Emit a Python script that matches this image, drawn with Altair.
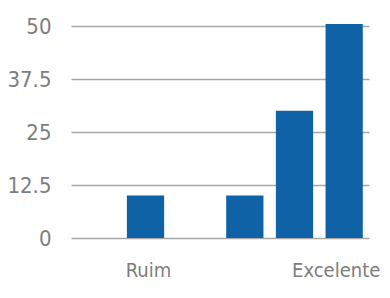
import altair as alt
import pandas as pd
import json

positions = [0, 1, 2, 3, 4, 5]
labels = ["", "Ruim", "", "", "", "Excelente"]
values = [0, 10, 0, 10, 30, 50.5]
y_ticks = [0, 12.5, 25, 37.5, 50]

df = pd.DataFrame({"pos": positions, "value": values})

FONT = "DejaVu Sans Condensed"
label_expr = json.dumps(labels) + "[datum.value]"
last = positions[-1]

chart = alt.Chart(df).mark_bar(color="#0f62a5").encode(
    x=alt.X("pos:O", title=None,
            scale=alt.Scale(paddingInner=0.25, paddingOuter=0.125),
            axis=alt.Axis(labelExpr=label_expr, labelAngle=0, ticks=False, domain=False,
                          labelFont=FONT, labelFontSize=20, labelColor="#7d7d7d",
                          labelPadding=38, labelBaseline="alphabetic", labelOverlap=False,
                          labelBound=False, labelFlush=False,
                          labelOffset={"condition": {"test": f"datum.value == {last}", "value": -8},
                                       "value": 3})),
    y=alt.Y("value:Q", title=None,
            scale=alt.Scale(domain=[0, 50], nice=False),
            axis=alt.Axis(values=y_ticks, ticks=False, domain=False,
                          labelFont=FONT, labelFontSize=22, labelColor="#7d7d7d",
                          labelPadding=20, gridColor="#a6a6a6", gridWidth=1.5,
                          labelExpr="datum.value")),
).properties(
    width=298, height=212,
    autosize=alt.AutoSizeParams(type="none"),
    padding={"left": 63, "top": 18, "right": 13, "bottom": 44},
).configure_view(stroke=None)

chart.save("out.html", embed_options={"renderer": "svg", "actions": False})
